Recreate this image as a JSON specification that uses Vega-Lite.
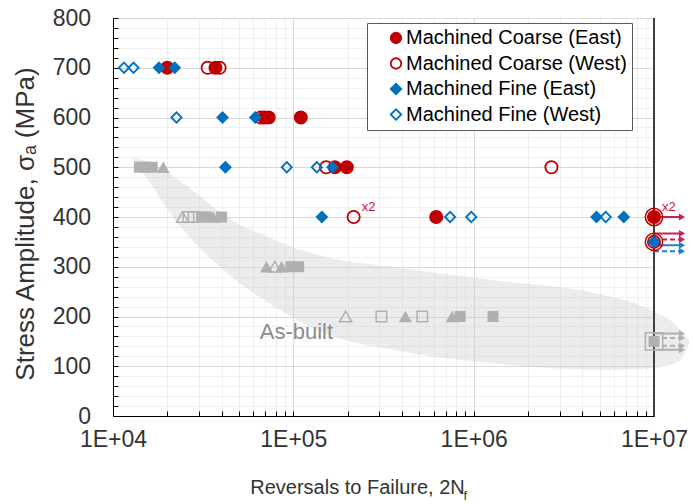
{
  "$schema": "https://vega.github.io/schema/vega-lite/v6.json",
  "width": 541,
  "height": 398,
  "autosize": {"type": "none"},
  "padding": {"left": 113, "top": 18, "right": 39, "bottom": 88},
  "background": "white",
  "config": {
    "view": {"stroke": "#404040", "strokeWidth": 1},
    "font": "Liberation Sans",
    "axis": {"labelFont": "Liberation Sans", "titleFont": "Liberation Sans"},
    "legend": {"labelFont": "Liberation Sans"}
  },
  "datasets": {
    "band": [
      {"n": 12900, "upper": 518, "lower": 516},
      {"n": 16000, "upper": 510, "lower": 470},
      {"n": 20600, "upper": 488, "lower": 409},
      {"n": 27600, "upper": 454, "lower": 353},
      {"n": 44200, "upper": 397, "lower": 284},
      {"n": 80200, "upper": 353, "lower": 218},
      {"n": 138600, "upper": 323, "lower": 171},
      {"n": 382600, "upper": 298, "lower": 131},
      {"n": 1360000, "upper": 272, "lower": 105},
      {"n": 4850000, "upper": 246, "lower": 93},
      {"n": 9150000, "upper": 216, "lower": 95},
      {"n": 13400000, "upper": 181, "lower": 107},
      {"n": 15800000, "upper": 151, "lower": 147}
    ],
    "limit": [{"n": 10000000}],
    "asbuilt": [
      {"kind": "sq-f", "n": 14000, "s": 500},
      {"kind": "sq-f", "n": 15200, "s": 500},
      {"kind": "sq-f", "n": 16500, "s": 500},
      {"kind": "tri-f", "n": 19000, "s": 500},
      {"kind": "tri-o", "n": 24300, "s": 400},
      {"kind": "sq-o", "n": 26200, "s": 400},
      {"kind": "sq-o", "n": 28000, "s": 400},
      {"kind": "sq-f", "n": 31000, "s": 400},
      {"kind": "sq-f", "n": 33000, "s": 400},
      {"kind": "tri-f", "n": 36000, "s": 400},
      {"kind": "sq-f", "n": 40000, "s": 400},
      {"kind": "tri-f", "n": 71000, "s": 300},
      {"kind": "tri-o", "n": 79000, "s": 300},
      {"kind": "tri-f", "n": 86000, "s": 300},
      {"kind": "sq-f", "n": 97000, "s": 300},
      {"kind": "sq-f", "n": 107000, "s": 300},
      {"kind": "tri-o", "n": 195000, "s": 200},
      {"kind": "sq-o", "n": 308000, "s": 200},
      {"kind": "tri-f", "n": 418000, "s": 200},
      {"kind": "sq-o", "n": 519000, "s": 200},
      {"kind": "tri-f", "n": 760000, "s": 200},
      {"kind": "sq-f", "n": 841000, "s": 200},
      {"kind": "sq-f", "n": 1280000, "s": 200},
      {"kind": "sq-f", "n": 10000000, "s": 150}
    ],
    "arrows": [
      {"grp": "CE", "n": 10000000, "n2": 14300000, "s": 400},
      {"grp": "CE", "n": 10000000, "n2": 14300000, "s": 367},
      {"grp": "CW", "n": 10000000, "n2": 14300000, "s": 355},
      {"grp": "FE", "n": 10000000, "n2": 14300000, "s": 343},
      {"grp": "FW", "n": 10000000, "n2": 14300000, "s": 331},
      {"grp": "ABs", "n": 10000000, "n2": 14300000, "s": 166},
      {"grp": "ABd", "n": 10000000, "n2": 14300000, "s": 157},
      {"grp": "ABd", "n": 10000000, "n2": 14300000, "s": 141},
      {"grp": "ABs", "n": 10000000, "n2": 14300000, "s": 133}
    ],
    "machined": [
      {"series": "Machined Coarse (East)", "n": 20000, "s": 700},
      {"series": "Machined Coarse (East)", "n": 37000, "s": 700},
      {"series": "Machined Coarse (East)", "n": 69000, "s": 600},
      {"series": "Machined Coarse (East)", "n": 73000, "s": 600},
      {"series": "Machined Coarse (East)", "n": 110000, "s": 600},
      {"series": "Machined Coarse (East)", "n": 170000, "s": 500},
      {"series": "Machined Coarse (East)", "n": 198000, "s": 500},
      {"series": "Machined Coarse (East)", "n": 620000, "s": 400},
      {"series": "Machined Coarse (East)", "n": 10000000, "s": 400},
      {"series": "Machined Coarse (West)", "n": 33500, "s": 700},
      {"series": "Machined Coarse (West)", "n": 39000, "s": 700},
      {"series": "Machined Coarse (West)", "n": 66000, "s": 600},
      {"series": "Machined Coarse (West)", "n": 152000, "s": 500},
      {"series": "Machined Coarse (West)", "n": 2700000, "s": 500},
      {"series": "Machined Coarse (West)", "n": 216000, "s": 400},
      {"series": "Machined Coarse (West)", "n": 10000000, "s": 350},
      {"series": "Machined Fine (East)", "n": 18000, "s": 700},
      {"series": "Machined Fine (East)", "n": 22000, "s": 700},
      {"series": "Machined Fine (East)", "n": 40500, "s": 600},
      {"series": "Machined Fine (East)", "n": 61500, "s": 600},
      {"series": "Machined Fine (East)", "n": 42000, "s": 500},
      {"series": "Machined Fine (East)", "n": 165000, "s": 500},
      {"series": "Machined Fine (East)", "n": 144000, "s": 400},
      {"series": "Machined Fine (East)", "n": 4800000, "s": 400},
      {"series": "Machined Fine (East)", "n": 6800000, "s": 400},
      {"series": "Machined Fine (East)", "n": 10000000, "s": 350},
      {"series": "Machined Fine (West)", "n": 11500, "s": 700},
      {"series": "Machined Fine (West)", "n": 13000, "s": 700},
      {"series": "Machined Fine (West)", "n": 22500, "s": 600},
      {"series": "Machined Fine (West)", "n": 92000, "s": 500},
      {"series": "Machined Fine (West)", "n": 135000, "s": 500},
      {"series": "Machined Fine (West)", "n": 740000, "s": 400},
      {"series": "Machined Fine (West)", "n": 970000, "s": 400},
      {"series": "Machined Fine (West)", "n": 5400000, "s": 400},
      {"series": "Machined Fine (West)", "n": 10000000, "s": 350}
    ],
    "rings": [
      {"grp": "Coarse", "n": 10000000, "s": 400},
      {"grp": "Coarse", "n": 10000000, "s": 350},
      {"grp": "As-built", "n": 10000000, "s": 150}
    ],
    "notes": [
      {"n": 216000, "s": 400, "label": "x2"},
      {"n": 10000000, "s": 400, "label": "x2"}
    ],
    "bandlabel": [
      {"n": 104000, "s": 154, "label": "As-built"}
    ]
  },
  "resolve": {"axis": {"x": "independent"}},
  "layer": [
    {
      "data": {"name": "band"},
      "mark": {"type": "area", "interpolate": "monotone", "color": "#c8c8c8", "opacity": 0.35},
      "encoding": {
        "x": {
          "field": "n", "type": "quantitative",
          "scale": {"type": "log", "domain": [10000, 10000000], "nice": false},
          "axis": {
            "values": [10000,20000,30000,40000,50000,60000,70000,80000,90000,100000,200000,300000,400000,500000,600000,700000,800000,900000,1000000,2000000,3000000,4000000,5000000,6000000,7000000,8000000,9000000,10000000],
            "tickCount": 500,
            "labelExpr": "datum.value == 10000 ? '1E+04' : datum.value == 100000 ? '1E+05' : datum.value == 1000000 ? '1E+06' : datum.value == 10000000 ? '1E+07' : ''",
            "labelOverlap": false, "labelFlush": false, "labelBound": false,
            "labelFontSize": 23, "labelColor": "#333333", "labelBaseline": "alphabetic", "labelPadding": 35.5,
            "tickSize": -5, "tickColor": "#000000", "tickWidth": 1,
            "domainColor": "#000000", "domainWidth": 1,
            "grid": true,
            "gridColor": {"condition": {"test": "indexof([10000,100000,1000000,10000000], datum.value) >= 0", "value": "#d9d9d9"}, "value": "#efefef"},
            "title": "Reversals to Failure, 2N",
            "titleFontSize": 20, "titleFontWeight": "normal", "titleColor": "#333333",
            "titleX": 244, "titleY": 77.5, "titleAlign": "center", "titleBaseline": "alphabetic"
          }
        },
        "y": {
          "field": "upper", "type": "quantitative",
          "scale": {"domain": [0, 800], "nice": false},
          "axis": {
            "values": [0,20,40,60,80,100,120,140,160,180,200,220,240,260,280,300,320,340,360,380,400,420,440,460,480,500,520,540,560,580,600,620,640,660,680,700,720,740,760,780,800],
            "tickCount": 500,
            "labelExpr": "datum.value % 100 === 0 ? datum.label : ''",
            "labelOverlap": false, "labelFlush": false, "labelBound": false,
            "labelFontSize": 23, "labelColor": "#333333", "labelPadding": 27.5, "labelBaseline": "middle",
            "tickSize": -5, "tickColor": "#000000", "tickWidth": 1,
            "domainColor": "#000000", "domainWidth": 1,
            "grid": true,
            "gridColor": {"condition": {"test": "datum.value % 100 === 0", "value": "#d9d9d9"}, "value": "#efefef"},
            "title": "Stress Amplitude, σₐ (MPa)",
            "titleFontSize": 26, "titleFontWeight": "normal", "titleColor": "#333333",
            "titleAngle": -90, "titleX": -80, "titleY": 205.5, "titleAlign": "center", "titleBaseline": "alphabetic"
          }
        },
        "y2": {"field": "lower"}
      }
    },
    {
      "data": {"name": "limit"},
      "mark": {"type": "rule", "color": "#404040", "strokeWidth": 2},
      "encoding": {
        "x": {
          "field": "n", "type": "quantitative",
          "axis": {
            "orient": "top", "domain": false, "ticks": false, "labels": false, "grid": false,
            "title": "f", "titleFontSize": 13, "titleFontWeight": "normal", "titleColor": "#333333",
            "titleX": 350, "titleY": 481, "titleAlign": "left", "titleBaseline": "alphabetic", "titleAngle": 0
          }
        }
      }
    },
    {
      "data": {"name": "asbuilt"},
      "transform": [{"filter": "datum.kind === 'sq-f'"}],
      "mark": {"type": "point", "shape": "square", "filled": true, "size": 121, "color": "#b0b0b0", "opacity": 1},
      "encoding": {
        "x": {"field": "n", "type": "quantitative", "axis": null},
        "y": {"field": "s", "type": "quantitative"}
      }
    },
    {
      "data": {"name": "asbuilt"},
      "transform": [{"filter": "datum.kind === 'sq-o'"}],
      "mark": {"type": "point", "shape": "square", "filled": false, "size": 110, "stroke": "#b0b0b0", "strokeWidth": 1.5, "opacity": 1},
      "encoding": {
        "x": {"field": "n", "type": "quantitative", "axis": null},
        "y": {"field": "s", "type": "quantitative"}
      }
    },
    {
      "data": {"name": "asbuilt"},
      "transform": [{"filter": "datum.kind === 'tri-f'"}],
      "mark": {"type": "point", "shape": "triangle-up", "filled": true, "size": 170, "color": "#b0b0b0", "opacity": 1},
      "encoding": {
        "x": {"field": "n", "type": "quantitative", "axis": null},
        "y": {"field": "s", "type": "quantitative"}
      }
    },
    {
      "data": {"name": "asbuilt"},
      "transform": [{"filter": "datum.kind === 'tri-o'"}],
      "mark": {"type": "point", "shape": "triangle-up", "filled": false, "size": 150, "stroke": "#b0b0b0", "strokeWidth": 1.5, "opacity": 1},
      "encoding": {
        "x": {"field": "n", "type": "quantitative", "axis": null},
        "y": {"field": "s", "type": "quantitative"}
      }
    },
    {
      "data": {"name": "arrows"},
      "mark": {"type": "rule", "strokeWidth": 2},
      "encoding": {
        "x": {"field": "n", "type": "quantitative", "axis": null},
        "x2": {"field": "n2"},
        "y": {"field": "s", "type": "quantitative"},
        "color": {"field": "grp", "type": "nominal", "scale": {"domain": ["CE", "CW", "FE", "FW", "ABs", "ABd"], "range": ["#cc1f4f", "#cc1f4f", "#1f7fd4", "#1f7fd4", "#b0b0b0", "#b0b0b0"]}, "legend": null},
        "strokeDash": {"field": "grp", "type": "nominal", "scale": {"domain": ["CE", "CW", "FE", "FW", "ABs", "ABd"], "range": [[1, 0], [5, 3], [1, 0], [5, 3], [1, 0], [5, 3]]}, "legend": null}
      }
    },
    {
      "data": {"name": "arrows"},
      "mark": {"type": "point", "shape": "triangle-right", "filled": true, "size": 50, "opacity": 1},
      "encoding": {
        "x": {"field": "n2", "type": "quantitative", "axis": null},
        "y": {"field": "s", "type": "quantitative"},
        "color": {"field": "grp", "type": "nominal", "legend": null}
      }
    },
    {
      "data": {"name": "rings"},
      "transform": [{"filter": "datum.grp === 'Coarse'"}],
      "mark": {"type": "point", "shape": "circle", "size": 300, "strokeWidth": 1.5, "filled": false, "stroke": "#c00000", "opacity": 1},
      "encoding": {
        "x": {"field": "n", "type": "quantitative", "axis": null},
        "y": {"field": "s", "type": "quantitative"}
      }
    },
    {
      "data": {"name": "rings"},
      "transform": [{"filter": "datum.grp === 'As-built'"}],
      "mark": {"type": "point", "shape": "square", "size": 300, "strokeWidth": 1.5, "filled": false, "stroke": "#b0b0b0", "opacity": 1},
      "encoding": {
        "x": {"field": "n", "type": "quantitative", "axis": null},
        "y": {"field": "s", "type": "quantitative"}
      }
    },
    {
      "data": {"name": "machined"},
      "transform": [{"filter": "indexof(datum.series, 'Coarse') >= 0"}],
      "mark": {"type": "point", "strokeWidth": 1.8, "opacity": 1, "size": 150},
      "encoding": {
        "x": {"field": "n", "type": "quantitative", "axis": null},
        "y": {"field": "s", "type": "quantitative"},
        "shape": {
          "field": "series", "type": "nominal",
          "scale": {"domain": ["Machined Coarse (East)", "Machined Coarse (West)", "Machined Fine (East)", "Machined Fine (West)"], "range": ["circle", "circle", "diamond", "diamond"]},
          "legend": {"title": null, "orient": "none", "legendX": 254, "legendY": 5, "fillColor": "white", "strokeColor": "#595959", "padding": 5, "labelFontSize": 20, "labelColor": "#000000", "symbolSize": 110, "symbolStrokeWidth": 1.8, "rowPadding": 5.5, "symbolOffset": 14, "labelOffset": 0, "labelLimit": 400}
        },
        "stroke": {
          "field": "series", "type": "nominal",
          "scale": {"domain": ["Machined Coarse (East)", "Machined Coarse (West)", "Machined Fine (East)", "Machined Fine (West)"], "range": ["#c00000", "#c00000", "#0070c0", "#0070c0"]},
          "legend": {"title": null, "orient": "none", "legendX": 254, "legendY": 5, "fillColor": "white", "strokeColor": "#595959", "padding": 5, "labelFontSize": 20, "labelColor": "#000000", "symbolSize": 110, "symbolStrokeWidth": 1.8, "rowPadding": 5.5, "symbolOffset": 14, "labelOffset": 0, "labelLimit": 400}
        },
        "fill": {
          "field": "series", "type": "nominal",
          "scale": {"domain": ["Machined Coarse (East)", "Machined Coarse (West)", "Machined Fine (East)", "Machined Fine (West)"], "range": ["#c00000", "transparent", "#0070c0", "transparent"]},
          "legend": {"title": null, "orient": "none", "legendX": 254, "legendY": 5, "fillColor": "white", "strokeColor": "#595959", "padding": 5, "labelFontSize": 20, "labelColor": "#000000", "symbolSize": 110, "symbolStrokeWidth": 1.8, "rowPadding": 5.5, "symbolOffset": 14, "labelOffset": 0, "labelLimit": 400}
        }
      }
    },
    {
      "data": {"name": "machined"},
      "transform": [{"filter": "indexof(datum.series, 'Fine') >= 0"}],
      "mark": {"type": "point", "strokeWidth": 1.8, "opacity": 1, "size": 105},
      "encoding": {
        "x": {"field": "n", "type": "quantitative", "axis": null},
        "y": {"field": "s", "type": "quantitative"},
        "shape": {"field": "series", "type": "nominal"},
        "stroke": {"field": "series", "type": "nominal"},
        "fill": {"field": "series", "type": "nominal"}
      }
    },
    {
      "data": {"name": "notes"},
      "mark": {"type": "text", "align": "left", "baseline": "alphabetic", "dx": 8, "dy": -6, "fontSize": 13, "color": "#c8143c", "font": "Liberation Sans"},
      "encoding": {
        "x": {"field": "n", "type": "quantitative", "axis": null},
        "y": {"field": "s", "type": "quantitative"},
        "text": {"field": "label", "type": "nominal"}
      }
    },
    {
      "data": {"name": "bandlabel"},
      "mark": {"type": "text", "align": "center", "baseline": "alphabetic", "fontSize": 22, "color": "#8c8c8c", "font": "Liberation Sans"},
      "encoding": {
        "x": {"field": "n", "type": "quantitative", "axis": null},
        "y": {"field": "s", "type": "quantitative"},
        "text": {"field": "label", "type": "nominal"}
      }
    }
  ]
}
